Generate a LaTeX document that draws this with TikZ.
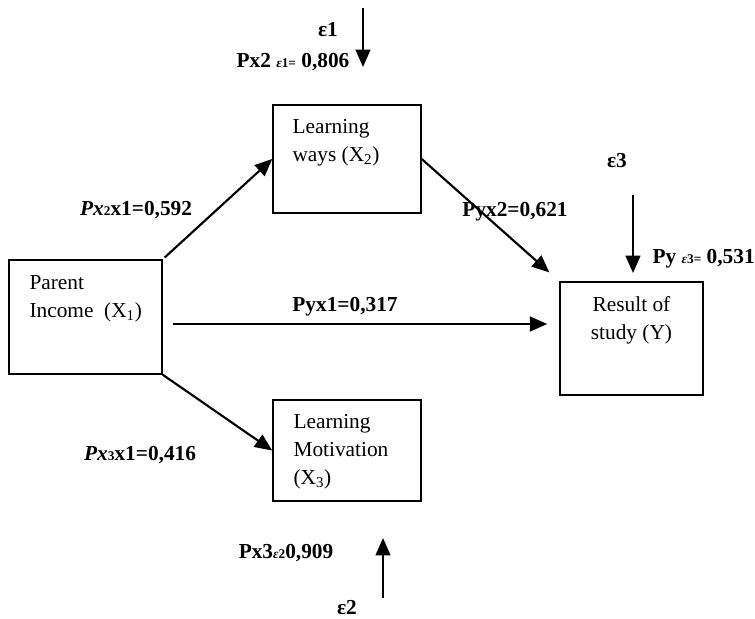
\documentclass[tikz,border=0pt]{standalone}
\usepackage{fontspec}
\setmainfont{Liberation Serif}
\usetikzlibrary{positioning,arrows.meta}
\newcommand{\coefsub}[1]{{\fontsize{10}{10}\selectfont #1}}

\begin{document}
\begin{tikzpicture}[x=0.75pt, y=-0.75pt,
    var/.style={draw, line width=1.1pt, inner sep=0pt},
    vartext/.style={inner sep=0pt, align=left, font=\fontsize{16}{21}\selectfont},
    coef/.style={inner sep=0pt, font=\fontsize{16}{19}\selectfont\bfseries},
    link/.style={line width=1.6pt, -{Triangle[length=13pt, width=11pt]}}]
  \useasboundingbox (0,0) rectangle (755,618);
  % variables
  \node[var, minimum width=114.75pt, minimum height=85.5pt] (X1) at (85.5,317) {};
  \node[var, minimum width=111pt, minimum height=81pt] (X2) at (347,159) {};
  \node[var, minimum width=111pt, minimum height=75.75pt] (X3) at (347,450.5) {};
  \node[var, minimum width=107.25pt, minimum height=84.75pt] (Y) at (631.5,338.5) {};
  \node[vartext, below right=12pt and 15.75pt of X1.north west] (X1 text) {Parent\\Income~~(X\textsubscript{1})};
  \node[vartext, below right=11pt and 15pt of X2.north west] (X2 text) {Learning\\ways (X\textsubscript{2})};
  \node[vartext, below right=11pt and 15.75pt of X3.north west] (X3 text) {Learning\\Motivation\\(X\textsubscript{3})};
  \node[vartext, align=center, below=11pt of Y.north] (Y text) {Result of\\study (Y)};
  % paths
  \coordinate (mid) at (0,324);
  \draw[link, shorten <=2pt] (X1.north east) -- (X2.west);
  \draw[link, shorten >=10pt] (X2.east) -- (Y.north west);
  \draw[link, shorten <=7.5pt, shorten >=9pt] (X1.east |- mid) -- (Y.west |- mid);
  \draw[link] (X1.south east) -- (X3.west);
  % errors
  \coordinate (e1 tail) at (363,8);
  \coordinate (e1 head) at (363,67);
  \coordinate (e3 tail) at (633,195);
  \coordinate (e3 head) at (633,273);
  \coordinate (e2 tail) at (383,598);
  \coordinate (e2 head) at (383,538);
  \draw[link] (e1 tail) -- (e1 head);
  \draw[link] (e3 tail) -- (e3 head);
  \draw[link] (e2 tail) -- (e2 head);
  % coefficients
  \node[coef] (e1) at (328,30) {ε1};
  \node[coef] (e3) at (617,161) {ε3};
  \node[coef] (e2) at (347,608) {ε2};
  \node[coef] (p21) at (136,210) {\textit{P}\textit{x}\coefsub{2}x1=0,592};
  \node[coef] (py2) at (515,212) {Pyx2=0,621};
  \node[coef] (py1) at (345,307) {Pyx1=0,317};
  \node[coef] (p31) at (140,455) {\textit{P}\textit{x}\coefsub{3}x1=0,416};
  \node[coef] (p2e) at (293,62) {Px2 \coefsub{\textit{ε}1=} 0,806};
  \node[coef, anchor=east] (pye) at (755,259) {Py \coefsub{\textit{ε}3=} 0,531};
  \node[coef] (p3e) at (286,553) {Px3\coefsub{\textit{ε}2}0,909};
\end{tikzpicture}
\end{document}
